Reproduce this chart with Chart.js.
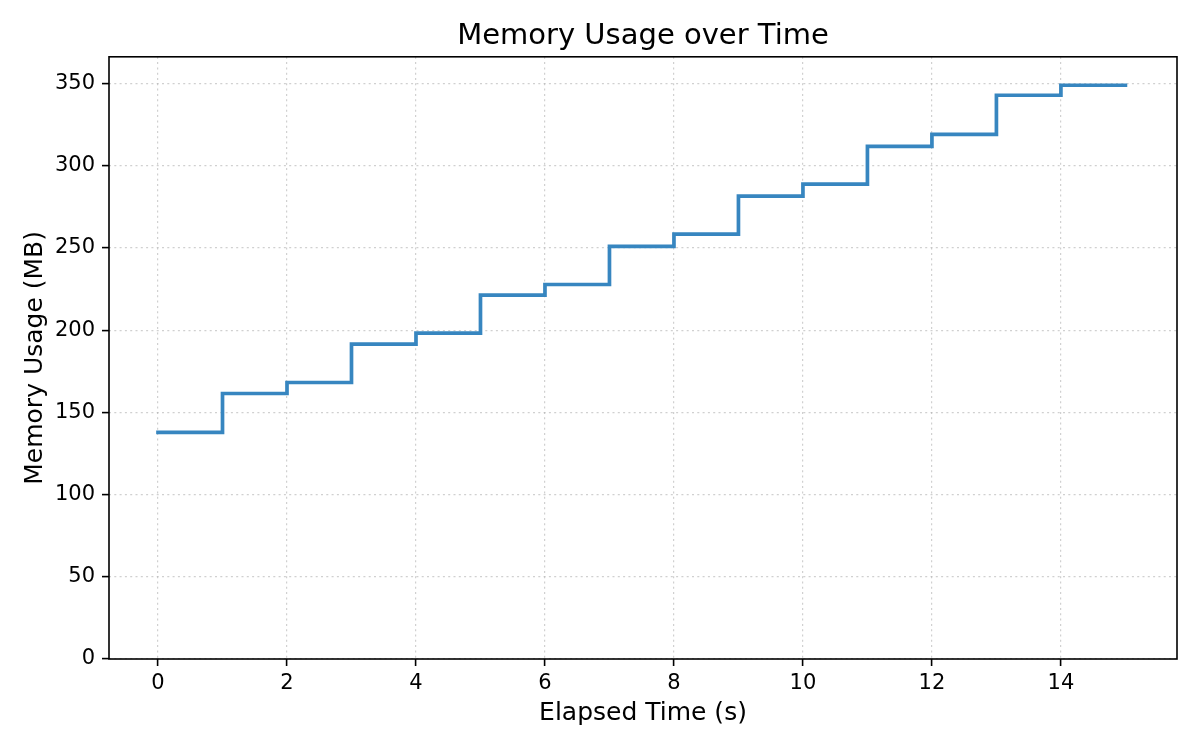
<!DOCTYPE html>
<html>
<head>
<meta charset="utf-8">
<title>Memory Usage over Time</title>
<script src="https://cdn.jsdelivr.net/npm/chart.js@4/dist/chart.umd.min.js"></script>
<style>
  html, body { margin: 0; padding: 0; background: #fff; }
  #wrap { width: 1200px; height: 750px; }
</style>
</head>
<body>
<div id="wrap"><canvas id="chart" width="1200" height="750"></canvas></div>
<script>
// Step samples (value holds until the next second)
const timeSec = [0, 1, 2, 3, 4, 5, 6, 7, 8, 9, 10, 11, 12, 13, 14, 15];
const memoryMB = [137.8, 161.5, 168.2, 191.5, 198.2, 221.3, 227.8, 251.0,
                  258.4, 281.6, 288.9, 311.8, 319.1, 342.9, 349.0, 349.0];

const xTicks = [0, 2, 4, 6, 8, 10, 12, 14];
const yTicks = [0, 50, 100, 150, 200, 250, 300, 350];

const FONT = "'DejaVu Sans', sans-serif";
Chart.defaults.color = '#000';
Chart.defaults.font.family = FONT;

// draws the four spines around the plot area
const frame = {
  id: 'frame',
  afterDraw(chart) {
    const { ctx, chartArea: a } = chart;
    ctx.save();
    ctx.strokeStyle = '#000';
    ctx.lineWidth = 1.6;
    ctx.strokeRect(a.left, a.top, a.right - a.left, a.bottom - a.top);
    ctx.restore();
  }
};

const gridOpts = {
  color: 'rgba(176,176,176,0.6)',
  lineWidth: 1.2,
  drawTicks: true,
  tickLength: 7,
  tickColor: '#000',
  tickWidth: 1.6,
  tickBorderDash: []
};

new Chart(document.getElementById('chart'), {
  type: 'line',
  data: {
    datasets: [{
      data: timeSec.map((t, i) => ({ x: t, y: memoryMB[i] })),
      borderColor: '#3786c0',
      borderWidth: 3.7,
      stepped: true,
      pointRadius: 0,
      fill: false,
      borderCapStyle: 'square',
      borderJoinStyle: 'miter'
    }]
  },
  plugins: [frame],
  options: {
    responsive: false,
    animation: false,
    layout: { padding: { left: 0, right: 23, top: 0, bottom: 0 } },
    plugins: {
      legend: { display: false },
      tooltip: { enabled: false },
      title: {
        display: true,
        fullSize: false,
        text: 'Memory Usage over Time',
        font: { size: 29, weight: 'normal', family: FONT, lineHeight: 1.2 },
        padding: { top: 19, bottom: 3 }
      }
    },
    scales: {
      x: {
        type: 'linear',
        min: -0.76,
        max: 15.8,
        afterBuildTicks: s => { s.ticks = xTicks.map(v => ({ value: v })); },
        afterFit: s => { s.height = 91; },
        grid: gridOpts,
        border: { display: false, dash: [2, 3.3] },
        ticks: { font: { size: 21 }, padding: 5, maxRotation: 0 },
        title: {
          display: true,
          text: 'Elapsed Time (s)',
          font: { size: 25, lineHeight: 1.2 },
          padding: { bottom: 22 }
        }
      },
      y: {
        min: 0,
        max: 366.3,
        afterBuildTicks: s => { s.ticks = yTicks.map(v => ({ value: v })); },
        afterFit: s => { s.width = 109; },
        grid: gridOpts,
        border: { display: false, dash: [2, 3.3] },
        ticks: { font: { size: 21 }, padding: 7 },
        title: {
          display: true,
          text: 'Memory Usage (MB)',
          font: { size: 25, lineHeight: 1.2 },
          padding: { top: 20 }
        }
      }
    }
  }
});
</script>
</body>
</html>
